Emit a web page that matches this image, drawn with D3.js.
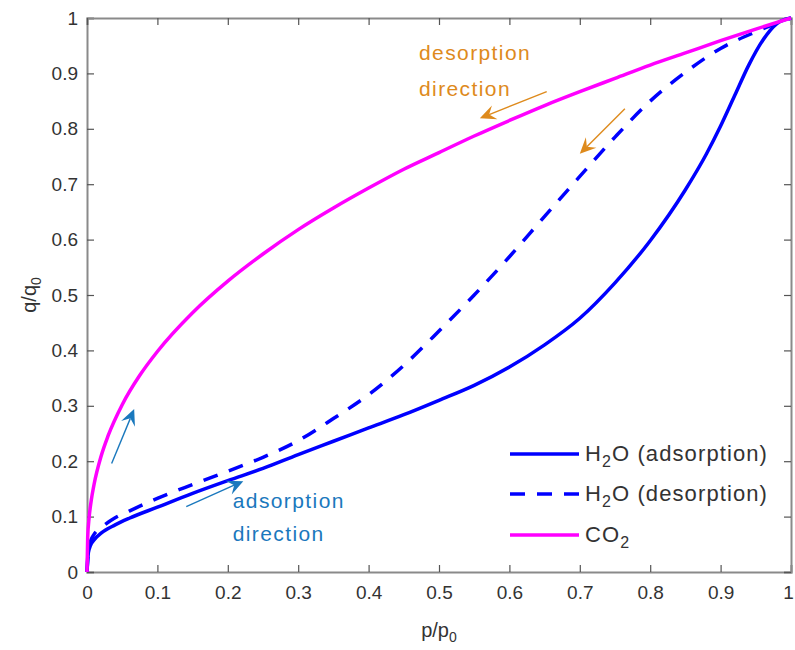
<!DOCTYPE html>
<html><head><meta charset="utf-8">
<script src="https://cdn.jsdelivr.net/npm/d3@7"></script>
<style>body{margin:0;background:#fff}svg{display:block}text{font-family:"Liberation Sans",Arial,sans-serif}</style>
</head><body>
<svg id="c" width="795" height="650"></svg>
<script>
// ---- data ----
const co2P = [0,0.001,0.003,0.006,0.01,0.02,0.03,0.05,0.075,0.1,0.15,0.2,0.25,0.3,0.35,0.4,0.45,0.5,0.55,0.6,0.65,0.7,0.75,0.8,0.85,0.9,0.95,1];
const co2Q = [0,0.063,0.098,0.129,0.158,0.209,0.246,0.302,0.355,0.398,0.468,0.525,0.574,0.618,0.657,0.693,0.727,0.757,0.787,0.815,0.842,0.867,0.891,0.915,0.937,0.959,0.98,1];

const adsP = [0,0.002,0.005,0.01,0.02,0.04,0.06,0.1,0.15,0.2,0.25,0.3,0.35,0.4,0.45,0.5,0.55,0.6,0.65,0.7,0.75,0.8,0.85,0.88,0.9,0.92,0.94,0.96,0.98,1];
const adsQ = [0,0.035,0.048,0.058,0.07,0.085,0.097,0.117,0.142,0.165,0.187,0.212,0.236,0.26,0.284,0.31,0.337,0.37,0.41,0.458,0.522,0.598,0.69,0.755,0.805,0.86,0.915,0.96,0.99,1];

const desP = [0,0.002,0.005,0.01,0.02,0.04,0.06,0.1,0.15,0.2,0.25,0.3,0.35,0.4,0.45,0.5,0.55,0.6,0.65,0.7,0.75,0.8,0.85,0.9,0.95,1];
const desQ = [0,0.042,0.056,0.068,0.08,0.098,0.11,0.133,0.158,0.182,0.207,0.237,0.277,0.32,0.373,0.435,0.5,0.569,0.642,0.714,0.785,0.85,0.902,0.945,0.975,1];

const xTicks = [0,0.1,0.2,0.3,0.4,0.5,0.6,0.7,0.8,0.9,1];
const yTicks = [0,0.1,0.2,0.3,0.4,0.5,0.6,0.7,0.8,0.9,1];

const seriesNames = ["H2O (adsorption)","H2O (desorption)","CO2"];

// annotations in data units: [x1,y1,x2,y2]
const desArrows = [[0.653,0.867,0.558,0.819],[0.764,0.836,0.700,0.755]];
const adsArrows = [[0.141,0.118,0.222,0.164],[0.035,0.196,0.067,0.294]];
const desText = {x:0.4716, y:[0.925,0.86], lines:["desorption","direction"]};
const adsText = {x:0.207, y:[0.1155,0.056], lines:["adsorption","direction"]};

// ---- layout ----
const L=87,R=791,T=18,B=572;
const svg=d3.select("#c");
const x=d3.scaleLinear().domain([0,1]).range([L,R]);
const y=d3.scaleLinear().domain([0,1]).range([B,T]);
const axisCol="#8a8a8a", labCol="#333";
const fs=19;

// axes
const gx=svg.append("g").attr("transform",`translate(0,${B})`)
  .call(d3.axisBottom(x).tickValues(xTicks).tickSize(-7).tickPadding(14).tickFormat(d=>d3.format("~g")(d)));
const gy=svg.append("g").attr("transform",`translate(${L},0)`)
  .call(d3.axisLeft(y).tickValues(yTicks).tickSize(-7).tickPadding(9).tickFormat(d=>d3.format("~g")(d)));
const gx2=svg.append("g").attr("transform",`translate(0,${T})`)
  .call(d3.axisTop(x).tickValues(xTicks).tickSize(-7).tickFormat(""));
const gy2=svg.append("g").attr("transform",`translate(${R},0)`)
  .call(d3.axisRight(y).tickValues(yTicks).tickSize(-7).tickFormat(""));
[gx,gy,gx2,gy2].forEach(g=>{
  g.select(".domain").attr("stroke",axisCol).attr("stroke-width",2);
  g.selectAll(".tick line").attr("stroke","#555").attr("stroke-width",1.2);
  g.selectAll(".tick text").attr("fill",labCol).style("font-size",fs+"px").style("font-family","'Liberation Sans',Arial,sans-serif");
});
gx.selectAll(".tick text").filter(d=>d===1).attr("dx",-3);

// curves
const line=d3.line().x(d=>x(d[0])).y(d=>y(d[1])).curve(d3.curveMonotoneX);
const zip=(a,b)=>a.map((v,i)=>[v,b[i]]);
const plot=svg.append("g");
plot.append("path").datum(zip(adsP,adsQ)).attr("d",line).attr("fill","none").attr("stroke","#0000ff").attr("stroke-width",3.5);
plot.append("path").datum(zip(desP,desQ)).attr("d",line).attr("fill","none").attr("stroke","#0000ff").attr("stroke-width",3.5).attr("stroke-dasharray","15 12");
plot.append("path").datum(zip(co2P,co2Q)).attr("d",line).attr("fill","none").attr("stroke","#ff00ff").attr("stroke-width",3.5);

// arrows
function arrow(a,col){
  const x1=x(a[0]),y1=y(a[1]),x2=x(a[2]),y2=y(a[3]);
  const ang=Math.atan2(y2-y1,x2-x1);
  const hl=16,hw=7.5,back=10;
  const ux=Math.cos(ang),uy=Math.sin(ang),nx=-uy,ny=ux;
  svg.append("line").attr("x1",x1).attr("y1",y1).attr("x2",x2-ux*back).attr("y2",y2-uy*back)
    .attr("stroke",col).attr("stroke-width",1.4);
  const pts=[[x2,y2],[x2-ux*hl+nx*hw,y2-uy*hl+ny*hw],[x2-ux*back,y2-uy*back],[x2-ux*hl-nx*hw,y2-uy*hl-ny*hw]];
  svg.append("polygon").attr("points",pts.map(p=>p.join(",")).join(" ")).attr("fill",col);
}
const orange="#de8a1c", lblue="#1a78bd";
desArrows.forEach(a=>arrow(a,orange));
adsArrows.forEach(a=>arrow(a,lblue));
function ann(t,col){
  t.lines.forEach((s,i)=>svg.append("text").attr("x",x(t.x)).attr("y",y(t.y[i])).attr("fill",col)
    .style("font-size","21px").style("letter-spacing","1.4px").text(s));
}
ann(desText,orange); ann(adsText,lblue);

// legend
const legY=[454,494,535];
const legStyles=[{c:"#0000ff",d:null},{c:"#0000ff",d:"15 12"},{c:"#ff00ff",d:null}];
const lg=svg.append("g");
seriesNames.forEach((n,i)=>{
  const l=lg.append("line").attr("x1",510).attr("x2",579).attr("y1",legY[i]).attr("y2",legY[i])
    .attr("stroke",legStyles[i].c).attr("stroke-width",3.5);
  if(legStyles[i].d) l.attr("stroke-dasharray",legStyles[i].d);
  const t=lg.append("text").attr("x",585).attr("y",legY[i]+7).attr("fill","#333").style("font-size","22px").style("letter-spacing","1.1px");
  const m=n.match(/^(H|CO)2(.*)$/);
  t.append("tspan").text(m[1]);
  t.append("tspan").attr("dy",6).style("font-size","16px").text("2");
  t.append("tspan").attr("dy",-6).text(m[2]);
});

// axis labels
const xl=svg.append("text").attr("x",(L+R)/2).attr("y",637).attr("text-anchor","middle").attr("fill","#333").style("font-size","20px");
xl.append("tspan").text("p/p");
xl.append("tspan").attr("dy",5).style("font-size","14px").text("0");
const yl=svg.append("text").attr("transform",`translate(36,${(T+B)/2}) rotate(-90)`).attr("text-anchor","middle").attr("fill","#333").style("font-size","20px");
yl.append("tspan").text("q/q");
yl.append("tspan").attr("dy",5).style("font-size","14px").text("0");
</script>
</body></html>
